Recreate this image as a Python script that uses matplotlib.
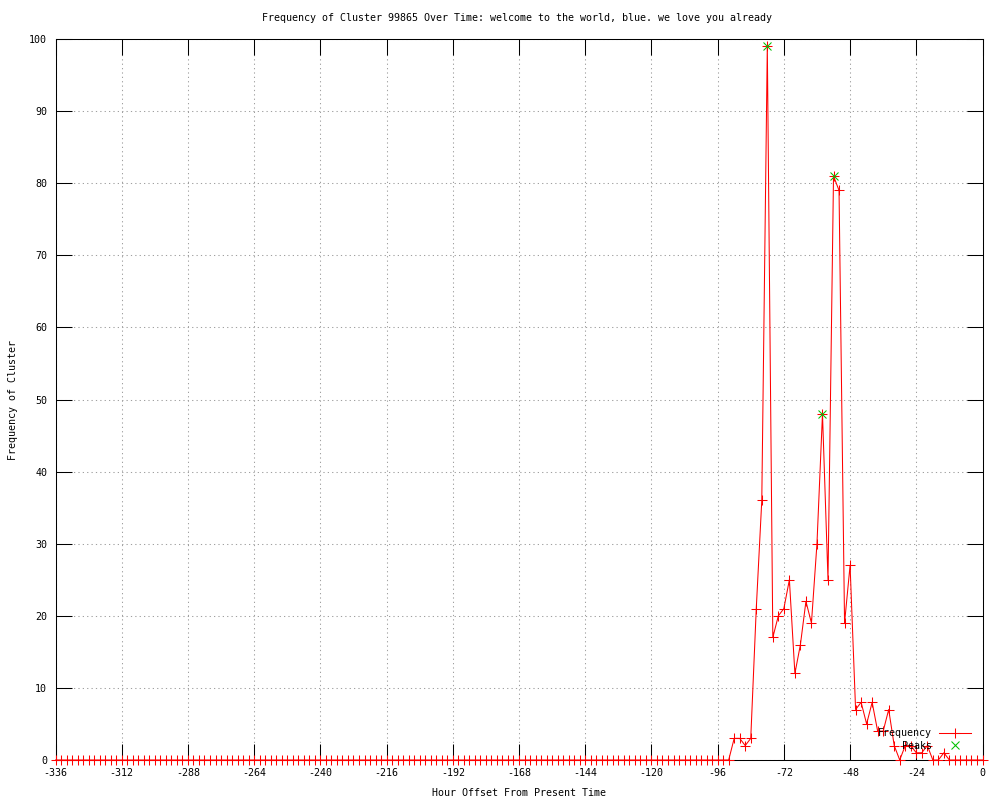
"""Gnuplot-style frequency plot of one cluster over the last two weeks."""

import matplotlib

matplotlib.use("Agg")
import matplotlib.pyplot as plt
from matplotlib.lines import Line2D

plt.rcParams["axes.unicode_minus"] = False

FONT = "DejaVu Sans Mono"
FS = 7.2

# hour offsets, one reading every 2 hours
hours = list(range(-336, 2, 2))
# all zero from -336 to -94, then the active stretch from -92 to 0
freq = [0] * 122 + [
    0, 3, 3, 2, 3, 21, 36, 99, 17, 20, 21, 25, 12, 16, 22, 19, 30, 48, 25, 81,
    79, 19, 27, 7, 8, 5, 8, 4, 4, 7, 2, 0, 2, 2, 1, 1, 2, 0, 0, 1,
    0, 0, 0, 0, 0, 0, 0,
]
peak_hours = [-78, -58, -54]
peak_freq = [99, 48, 81]

xticks = list(range(-336, 1, 24))
yticks = list(range(0, 101, 10))

title = "Frequency of Cluster 99865 Over Time: welcome to the world, blue. we love you already"

fig = plt.figure(figsize=(10, 8), dpi=100)
ax = fig.add_axes([0.0555, 0.05, 0.927, 0.9012])

ax.plot(hours, freq, color="#ff0000", lw=0.75, marker="+", ms=6.5, mew=0.75,
        clip_on=False, zorder=3)
ax.plot(peak_hours, peak_freq, ls="none", color="#00c000", marker="x", ms=6,
        mew=0.75, clip_on=False, zorder=4)

ax.set_xlim(-336, 0)
ax.set_ylim(0, 100)
ax.set_xticks(xticks)
ax.set_yticks(yticks)
ax.tick_params(direction="in", length=11.5, width=0.75, top=True, right=True,
               labelsize=FS, pad=6)
for lab in ax.get_xticklabels() + ax.get_yticklabels():
    lab.set_family(FONT)
ax.grid(True, color="#a0a0a0", lw=0.75, ls=(0, (1.2, 3)))
ax.set_axisbelow(True)
for sp in ax.spines.values():
    sp.set_linewidth(0.75)
    sp.set_zorder(2)

handles = [
    Line2D([], [], color="#ff0000", lw=0.75, marker="+", ms=6.5, mew=0.75,
           markevery=[1]),
    Line2D([], [], ls="none", color="#00c000", marker="x", ms=6, mew=0.75),
]
leg = ax.legend(handles, ["Frequency", "Peaks"], loc="lower right",
                bbox_to_anchor=(0.9925, 0.006), frameon=False, markerfirst=False,
                prop={"family": FONT, "size": FS}, handlelength=3.2,
                handletextpad=0.7, labelspacing=0.25, borderpad=0, numpoints=1)
leg.set_zorder(5)

fig.text(0.517, 0.977, title, ha="center", va="center", family=FONT, fontsize=FS)
fig.text(0.519, 0.009, "Hour Offset From Present Time", ha="center", va="center",
         family=FONT, fontsize=FS)
fig.text(0.013, 0.5, "Frequency of Cluster", ha="center", va="center",
         rotation=90, family=FONT, fontsize=FS)

fig.savefig("out.png", dpi=100)
